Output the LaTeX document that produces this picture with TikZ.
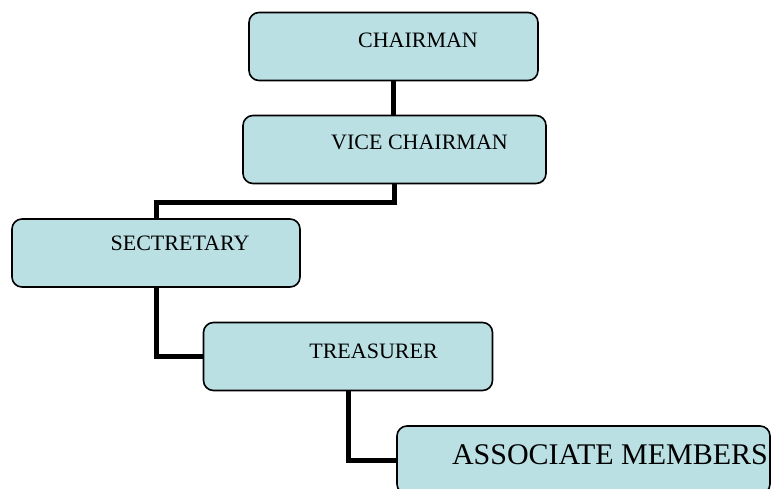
\documentclass[tikz,border=0pt]{standalone}
\usepackage{fontspec}
\setmainfont{Liberation Serif}
\usetikzlibrary{positioning}
\definecolor{boxfill}{RGB}{186,224,228}
\begin{document}
\begin{tikzpicture}[x=1pt,y=-1pt,line join=miter,
    post/.style={draw=black,line width=1.6pt,fill=boxfill,rounded corners=10pt,minimum width=#1,inner sep=0pt,minimum height=68pt},
    title/.style={inner sep=0pt,font=\fontsize{22}{26}\selectfont},
    bigtitle/.style={inner sep=0pt,font=\fontsize{30}{34}\selectfont},
    link/.style={line width=5pt}]
	\useasboundingbox (0,0) rectangle (771,489);
	\clip (0,0) rectangle (771,489);
	\node[post=289pt] (chair) at (393.5,46.5) {};
	\node[post=303pt] (vice) at (394.5,149.5) {};
	\node[post=288pt] (secr) at (156,253) {};
	\node[post=289pt] (treas) at (348,356.5) {};
	\node[post=373pt] (assoc) at (583.5,460) {};
	\node[title] (chair-t) at (418,40.5) {CHAIRMAN};
	\node[title] (vice-t) at (419.5,142.5) {VICE CHAIRMAN};
	\node[title] (secr-t) at (180,243.5) {SECTRETARY};
	\node[title] (treas-t) at (373.5,351) {TREASURER};
	\node[bigtitle] (assoc-t) at (610,455) {ASSOCIATE MEMBERS};
	\draw[link] (chair.south) -- (chair.south |- vice.north);
	\draw[link] (vice.south) -- ++(0,18) -| (secr.north);
	\draw[link] (secr.south) |- (treas.west);
	\draw[link] (treas.south) |- (assoc.west);
\end{tikzpicture}
\end{document}
